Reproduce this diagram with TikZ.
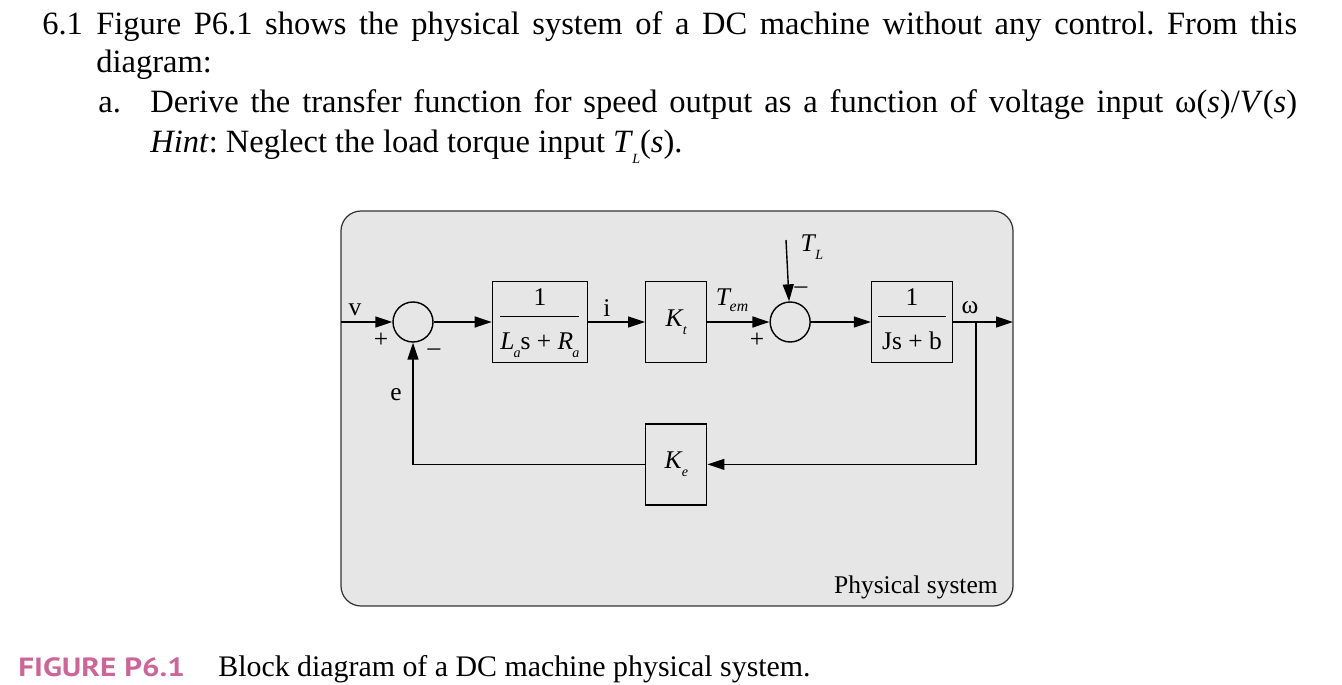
\documentclass[tikz,border=0pt]{standalone}
\usepackage{fontspec}
\setmainfont{Liberation Serif}
\newfontfamily\capfont{PT Sans}
\usetikzlibrary{positioning}
\usetikzlibrary{arrows.meta}
\definecolor{boxgray}{HTML}{E6E6E6}
\definecolor{figpink}{HTML}{CC6699}
\newcommand{\isub}[2]{\textit{#1}\kern-0.5pt\raisebox{-0.7ex}{\footnotesize\textit{#2}}}
\frenchspacing

\begin{document}
\begin{tikzpicture}[x=0.02cm, y=-0.02cm,
    blk/.style={draw, line width=0.8pt, minimum height=1.62cm, inner sep=1pt, font=\fontsize{14.5}{16}\selectfont},
    sum/.style={draw, circle, line width=0.8pt, minimum size=0.8cm, inner sep=0pt},
    sig/.style={line width=0.8pt, -{Triangle[length=0.34cm,width=0.22cm]}},
    lbl/.style={font=\fontsize{14.5}{16}\selectfont, inner sep=0pt},
    txt/.style={font=\fontsize{18.5}{21}\selectfont, anchor=base west, inner sep=0pt}]

    \useasboundingbox (0,0) rectangle (1342,685);

    % question text
    \node[txt] (num) at (42,35) {6.1};
    \node[txt] (l1) at (96,35) {\makebox[24.02cm][s]{Figure P6.1 shows the physical system of a DC machine without any control. From this}};
    \node[txt] (l2) at (96,73) {diagram:};
    \node[txt] (item) at (98,113) {a.};
    \node[txt] (l3) at (150,113) {\makebox[22.94cm][s]{Derive the transfer function for speed output as a function of voltage input ω(\textit{s})/\textit{V}(\textit{s})}};
    \node[txt] (l4) at (150,153) {\textit{Hint}: Neglect the load torque input \isub{T}{L}(\textit{s}).};

    % physical system
    \draw[fill=boxgray, draw=black!80, line width=0.7pt, rounded corners=0.4cm] (341,211) rectangle (1013,606);

    \node[sum] (sum1) at (413,322) {};
    \node[blk, minimum width=1.9cm, right=1.16cm of sum1] (la) {\begin{tabular}{@{}c@{}}1\\[1pt]\hline\rule{0pt}{2.8ex}\isub{L}{a}s + \isub{R}{a}\end{tabular}};
    \node[blk, minimum width=1.22cm, right=1.14cm of la] (kt) {\isub{K}{t}};
    \node[sum, right=1.24cm of kt] (sum2) {};
    \node[blk, minimum width=1.62cm, right=1.2cm of sum2] (js) {\begin{tabular}{@{\,}c@{\,}}1\\[1pt]\hline\rule{0pt}{2.8ex}Js + b\end{tabular}};
    \node[blk, minimum width=1.22cm, below=1.2cm of kt] (ke) {\isub{K}{e}};

    \coordinate (vin) at (341,322);
    \coordinate (tl) at (786,240);
    \coordinate (wout) at (1013,322);
    \coordinate (br) at (976,322);

    \draw[sig] (vin) -- (sum1);
    \draw[sig] (sum1) -- (la);
    \draw[sig] (la) -- (kt);
    \draw[sig] (kt) -- (sum2);
    \draw[sig] (tl) -- (sum2);
    \draw[sig] (sum2) -- (js);
    \draw[sig] (js) -- (wout);
    \draw[sig] (br) |- (ke);
    \draw[sig] (ke) -| (sum1);

    \node[lbl] (v) at (355,310) {v};
    \node[lbl] (p1) at (381,340) {+};
    \node[lbl] (m1) at (434,352) {–};
    \node[lbl] (e) at (396,395) {e};
    \node[lbl] (i) at (607,308) {i};
    \node[lbl] (tem) at (732,300) {\textit{T}\kern-1pt\raisebox{-0.5ex}{\small\textit{em}}};
    \node[lbl] (tlab) at (812,247) {\isub{T}{L}};
    \node[lbl] (m2) at (801,290) {–};
    \node[lbl] (p2) at (757,340) {+};
    \node[lbl] (w) at (970,308) {ω};
    \node[lbl, anchor=base east] (phys) at (998,593) {Physical system};

    % caption
    \node[txt, font=\capfont\bfseries\fontsize{15}{17}\selectfont, text=figpink] (fig) at (18,676) {\scalebox{1.18}[1]{FIGURE P6.1}};
    \node[txt, font=\fontsize{17}{20}\selectfont] (cap) at (218,676) {Block diagram of a DC machine physical system.};
\end{tikzpicture}
\end{document}
